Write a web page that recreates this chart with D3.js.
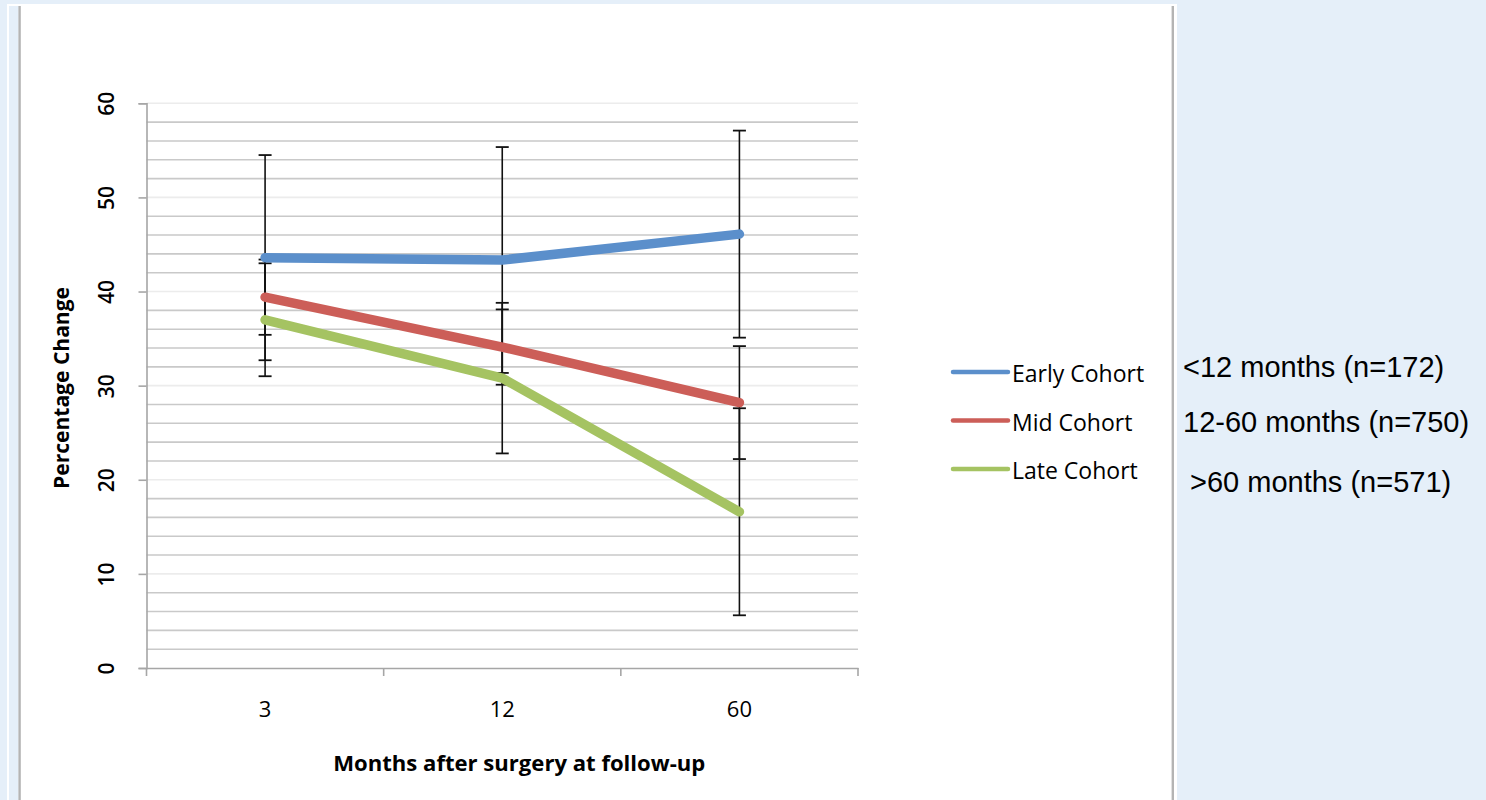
<!DOCTYPE html>
<html>
<head>
<meta charset="utf-8">
<script src="https://cdn.jsdelivr.net/npm/d3@7"></script>
<style>
  html, body { margin: 0; padding: 0; background: #e5eff9; }
  svg { display: block; }
</style>
</head>
<body>
<svg id="chart" width="1486" height="800"></svg>
<script>
// ---- data ----
const categories = ["3", "12", "60"];
const seriesNames = ["Early Cohort", "Mid Cohort", "Late Cohort"];
const earlyValues = [43.6, 43.35, 46.1];
const midValues = [39.4, 34.1, 28.2];
const lateValues = [37.0, 30.8, 16.6];
const earlyErrors = [10.9, 12.0, 11.0];
const midErrors = [4.0, 4.0, 6.0];
const lateErrors = [6.0, 8.0, 11.0];
const yTicks = [0, 10, 20, 30, 40, 50, 60];
const cohortNotes = ["<12 months (n=172)", "12-60 months (n=750)", ">60 months (n=571)"];
const seriesColors = ["#5b8fcb", "#cc5e58", "#a5c362"];

const series = seriesNames.map((name, i) => ({
  name,
  values: [earlyValues, midValues, lateValues][i],
  errors: [earlyErrors, midErrors, lateErrors][i],
  color: seriesColors[i]
}));

const svg = d3.select("#chart");

// panel
svg.append("rect").attr("x", 7).attr("y", 4).attr("width", 1170).attr("height", 796).attr("fill", "#ffffff");
svg.append("rect").attr("x", 9).attr("y", 6).attr("width", 9.5).attr("height", 794).attr("fill", "#e5eff9");
svg.append("line").attr("x1", 19.6).attr("x2", 19.6).attr("y1", 6).attr("y2", 800).attr("stroke", "#b4b4b4").attr("stroke-width", 2.4);
svg.append("line").attr("x1", 1172.8).attr("x2", 1172.8).attr("y1", 6).attr("y2", 800).attr("stroke", "#b4b4b4").attr("stroke-width", 2.4);

// scales
const plotLeft = 146.5, plotRight = 858, plotTop = 103.3, plotBottom = 668;
const x = d3.scaleBand().domain(categories).range([plotLeft, plotRight]).padding(0);
const y = d3.scaleLinear().domain([0, 60]).range([plotBottom, plotTop]);
const cx = c => x(c) + x.bandwidth() / 2;

// gridlines
const g = svg.append("g");
const minor = d3.range(2, 61, 2).filter(v => v % 10 !== 0);
g.selectAll(".minor").data(minor).enter().append("line")
  .attr("x1", plotLeft).attr("x2", plotRight)
  .attr("y1", d => y(d)).attr("y2", d => y(d))
  .attr("stroke", "#c9c9c9").attr("stroke-width", 1.6);
g.selectAll(".major").data(yTicks.filter(v => v > 0)).enter().append("line")
  .attr("x1", plotLeft).attr("x2", plotRight)
  .attr("y1", d => y(d)).attr("y2", d => y(d))
  .attr("stroke", "#ececec").attr("stroke-width", 1.6);

// y axis
const yAxis = svg.append("g").attr("transform", `translate(${plotLeft},0)`)
  .call(d3.axisLeft(y).tickValues(yTicks).tickSize(8).tickPadding(0).tickFormat(d3.format("d")));
yAxis.select(".domain").attr("stroke", "#a6a6a6").attr("stroke-width", 1.6);
yAxis.selectAll(".tick line").attr("stroke", "#a6a6a6").attr("stroke-width", 1.6);
yAxis.selectAll(".tick text")
  .attr("x", 0).attr("dy", 0)
  .attr("transform", "translate(-38,0) rotate(-90)")
  .attr("text-anchor", "middle").attr("dominant-baseline", "middle")
  .attr("font-family", "Open Sans").attr("font-weight", 600).attr("font-size", 21).attr("fill", "#000");

// x axis
const xAxis = svg.append("g").attr("transform", `translate(0,${plotBottom})`)
  .call(d3.axisBottom(x).tickSize(0).tickPadding(33));
xAxis.select(".domain").attr("stroke", "#a6a6a6").attr("stroke-width", 1.6);
xAxis.selectAll(".tick text").attr("font-family", "Open Sans").attr("font-weight", 500).attr("font-size", 22).attr("fill", "#000");
const edges = categories.map(c => x(c)).concat([x(categories[categories.length - 1]) + x.bandwidth()]);
xAxis.selectAll(".edge").data(edges).enter().append("line")
  .attr("x1", d => d).attr("x2", d => d).attr("y1", 0).attr("y2", 8)
  .attr("stroke", "#a6a6a6").attr("stroke-width", 1.6);

// axis titles
svg.append("text").attr("x", (plotLeft + plotRight) / 2 + 17).attr("y", 771)
  .attr("text-anchor", "middle").attr("font-family", "Open Sans").attr("font-weight", 700)
  .attr("font-size", 21.5).attr("textLength", 372).attr("lengthAdjust", "spacingAndGlyphs")
  .text("Months after surgery at follow-up");
svg.append("text").attr("transform", "translate(69,388) rotate(-90)")
  .attr("text-anchor", "middle").attr("font-family", "Open Sans").attr("font-weight", 700)
  .attr("font-size", 21.5).attr("textLength", 202).attr("lengthAdjust", "spacingAndGlyphs")
  .text("Percentage Change");

// error bars
const eb = svg.append("g");
series.forEach(s => {
  categories.forEach((c, i) => {
    const v = s.values[i], e = s.errors[i];
    const px = cx(c);
    eb.append("line").attr("x1", px).attr("x2", px).attr("y1", y(v + e)).attr("y2", y(v - e))
      .attr("stroke", "#111").attr("stroke-width", 1.6);
    [v + e, v - e].forEach(t => {
      eb.append("line").attr("x1", px - 6.5).attr("x2", px + 6.5).attr("y1", y(t)).attr("y2", y(t))
        .attr("stroke", "#111").attr("stroke-width", 1.8);
    });
  });
});

// lines
const lineGen = d3.line().x((d, i) => cx(categories[i])).y(d => y(d));
series.forEach(s => {
  svg.append("path").datum(s.values).attr("d", lineGen)
    .attr("fill", "none").attr("stroke", s.color).attr("stroke-width", 9.5)
    .attr("stroke-linecap", "round").attr("stroke-linejoin", "round");
});

// legend
const legendY = [372, 420.5, 469];
series.forEach((s, i) => {
  svg.append("line").attr("x1", 953).attr("x2", 1008).attr("y1", legendY[i]).attr("y2", legendY[i])
    .attr("stroke", s.color).attr("stroke-width", 4.5).attr("stroke-linecap", "round");
  svg.append("text").attr("x", 1012).attr("y", legendY[i] + 10)
    .attr("font-family", "Open Sans").attr("font-size", 23).attr("fill", "#000")
    .text(s.name);
});

// cohort notes
const noteX = [1183, 1183, 1190];
const noteY = [377, 432, 492];
cohortNotes.forEach((t, i) => {
  svg.append("text").attr("x", noteX[i]).attr("y", noteY[i])
    .attr("font-family", "Liberation Sans, Arial").attr("font-size", 29).attr("fill", "#000")
    .text(t);
});
</script>
</body>
</html>
